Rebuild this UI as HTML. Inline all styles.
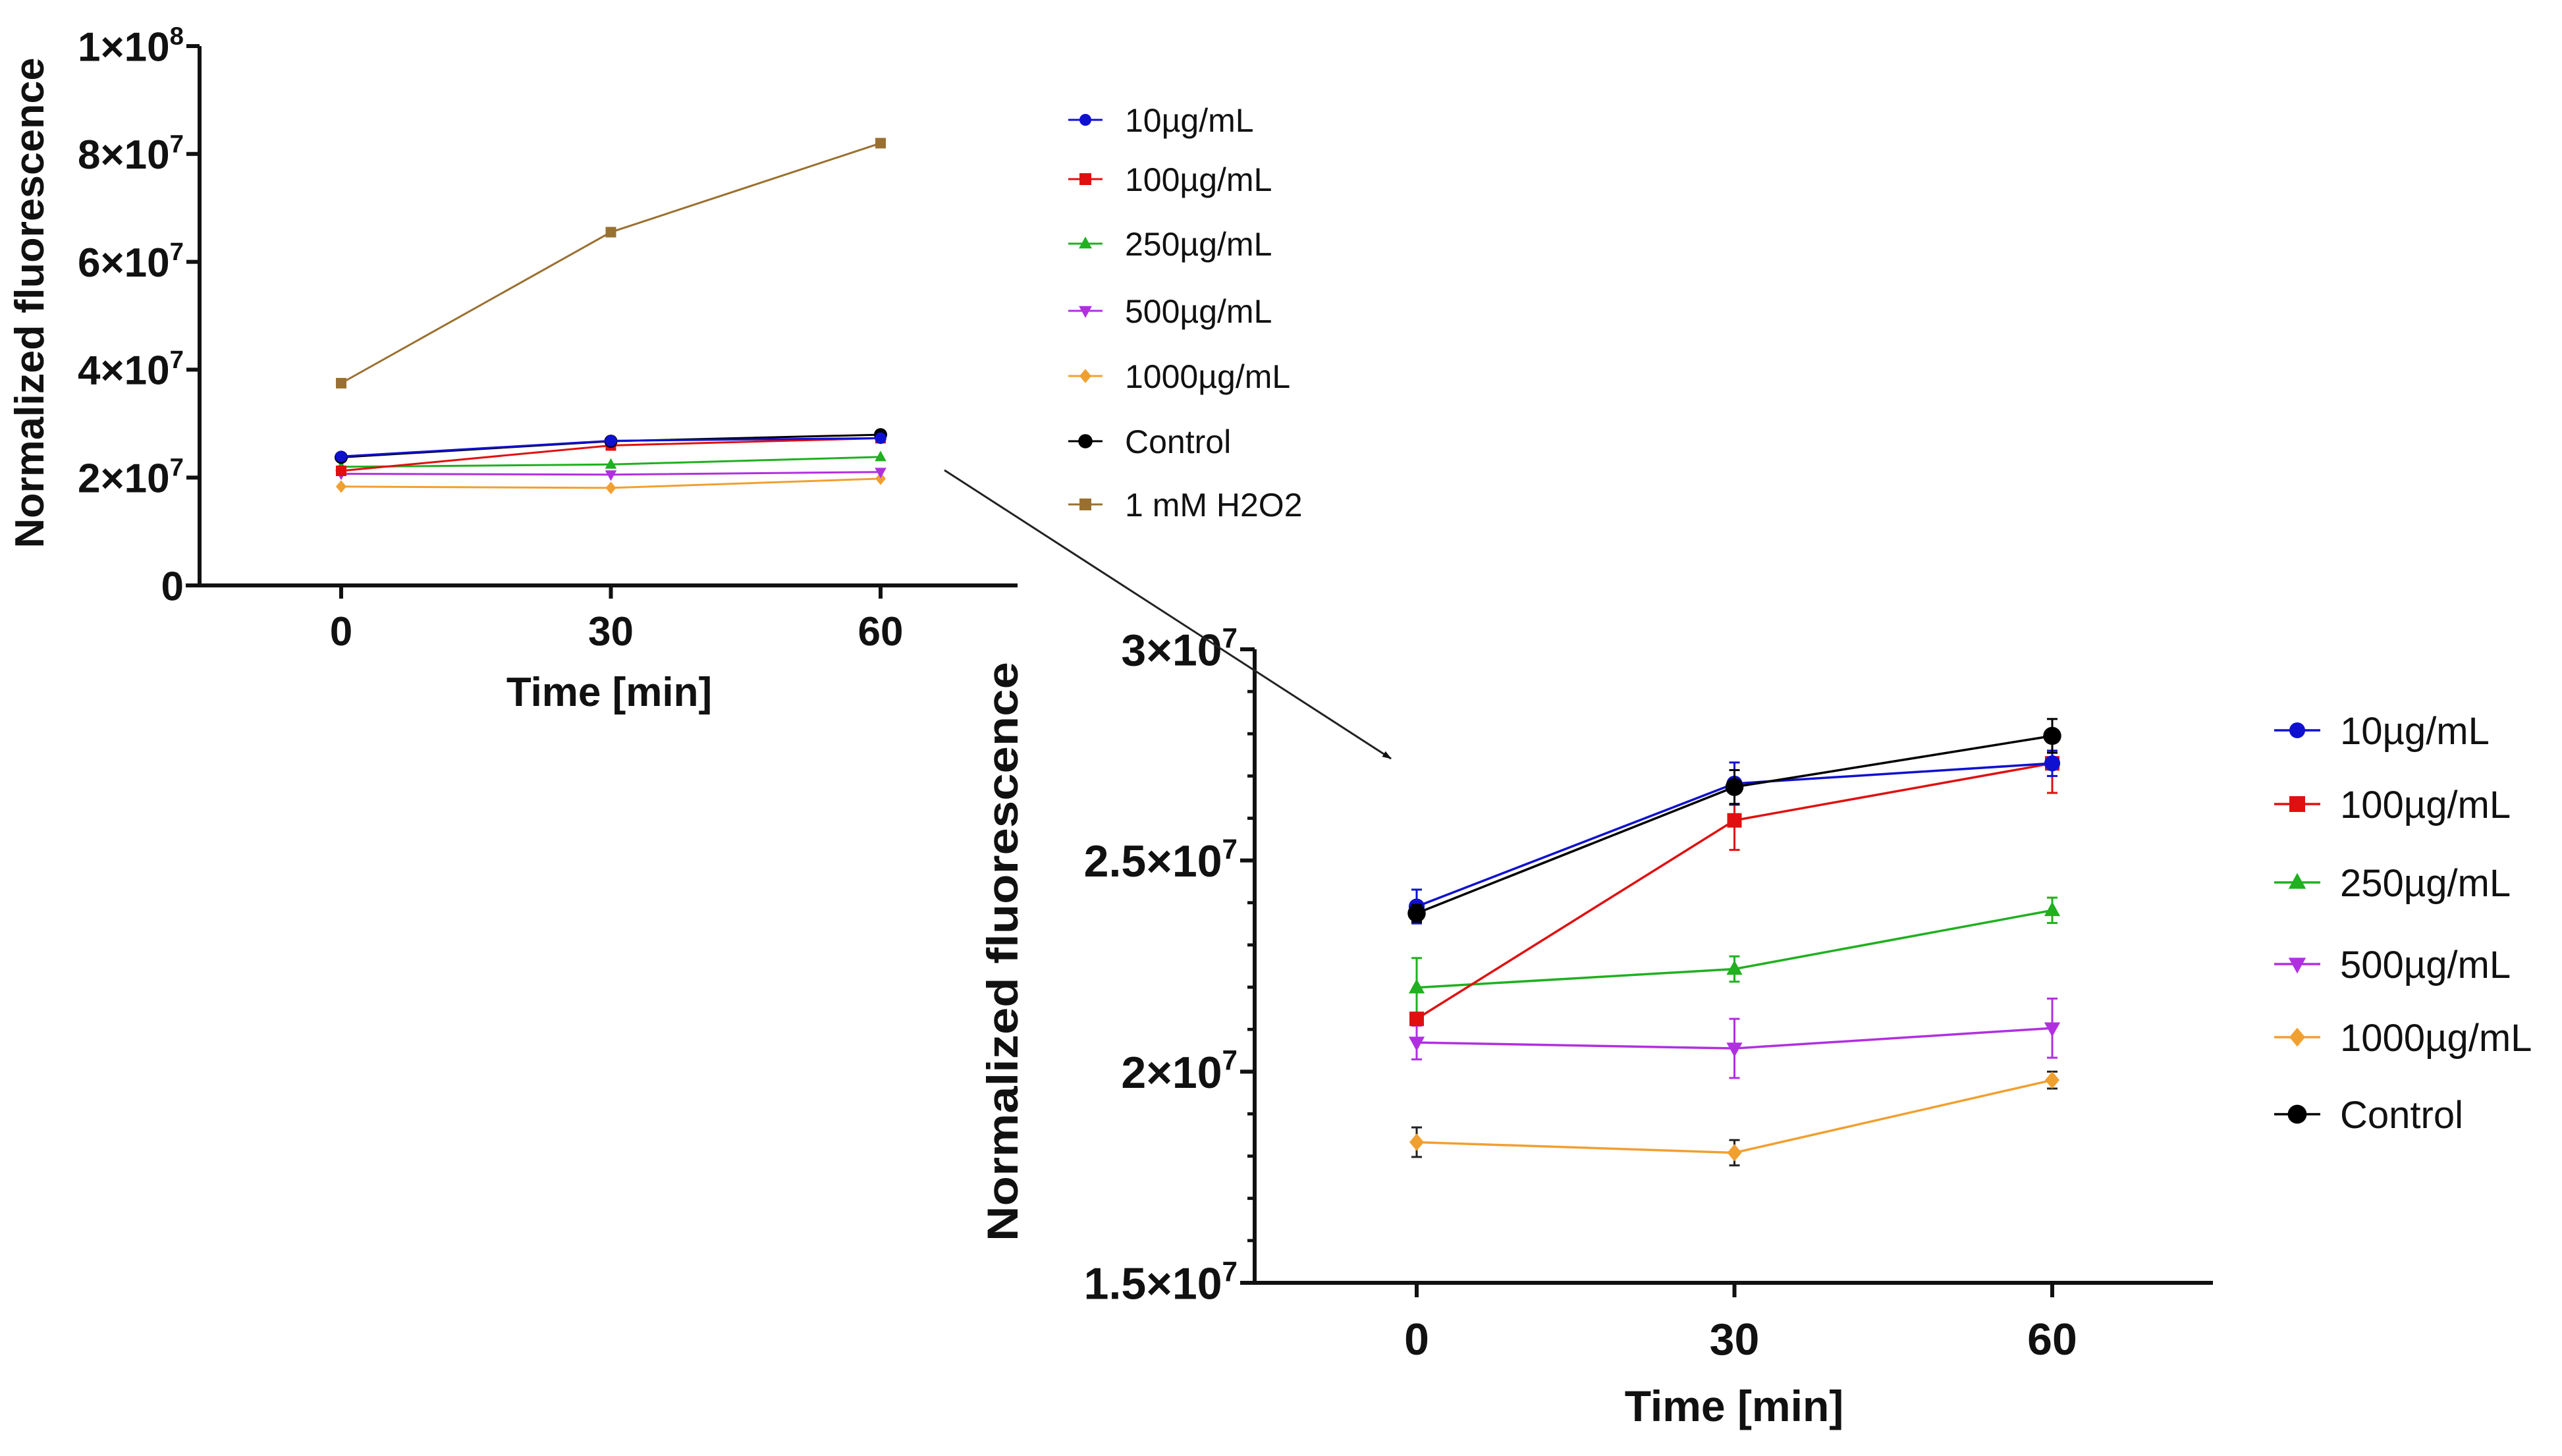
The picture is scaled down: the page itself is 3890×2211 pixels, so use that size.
<!DOCTYPE html>
<html><head><meta charset="utf-8">
<style>
html,body{margin:0;padding:0;background:#fff;}
svg{display:block;}
text{font-family:"Liberation Sans",sans-serif;}
</style></head>
<body>
<svg id="fig" width="3890" height="2211" viewBox="0 0 3890 2211" xmlns="http://www.w3.org/2000/svg">
<defs>
<marker id="ah" markerWidth="14" markerHeight="10" refX="13" refY="5" orient="auto" markerUnits="userSpaceOnUse" viewBox="0 0 14 10"><path d="M0,0 L14,5 L0,10 Z" fill="#111"/></marker>
</defs>
<g id="c1"></g>
<g id="c2"></g>
<line x1="1434" y1="714" x2="2112" y2="1152" stroke="#222" stroke-width="3" marker-end="url(#ah)"/>
</svg>
<script>
const times = [0, 30, 60];
const seriesNames = ["10µg/mL","100µg/mL","250µg/mL","500µg/mL","1000µg/mL","Control","1 mM H2O2"];
const v10 = [2.391e7, 2.682e7, 2.73e7];
const v100 = [2.125e7, 2.595e7, 2.73e7];
const v250 = [2.199e7, 2.243e7, 2.382e7];
const v500 = [2.069e7, 2.055e7, 2.103e7];
const v1000 = [1.833e7, 1.808e7, 1.98e7];
const vCtrl = [2.375e7, 2.674e7, 2.795e7];
const vH2O2 = [3.75e7, 6.55e7, 8.2e7];
const e10 = [0.04e7, 0.05e7, 0.03e7];
const e100 = [0.01e7, 0.07e7, 0.07e7];
const e250 = [0.07e7, 0.03e7, 0.03e7];
const e500 = [0.04e7, 0.07e7, 0.07e7];
const e1000 = [0.035e7, 0.03e7, 0.02e7];
const eCtrl = [0.02e7, 0.04e7, 0.04e7];
const ticks1 = [0, 2e7, 4e7, 6e7, 8e7, 1e8];
const ticks2 = [1.5e7, 2e7, 2.5e7, 3e7];

const NS = "http://www.w3.org/2000/svg";
function mk(parent, tag, attrs){
  const el = document.createElementNS(NS, tag);
  for (const k in attrs) el.setAttribute(k, attrs[k]);
  parent.appendChild(el);
  return el;
}
const styles = [
  {c:"#1010d0", m:"circle"},
  {c:"#e01010", m:"square"},
  {c:"#20b020", m:"tri"},
  {c:"#b030e0", m:"tridown"},
  {c:"#f0a030", m:"diamond"},
  {c:"#000000", m:"circle"},
  {c:"#9a7030", m:"square"}
];
const vals = [v10, v100, v250, v500, v1000, vCtrl, vH2O2];
const errs = [e10, e100, e250, e500, e1000, eCtrl, null];

function marker(g, type, x, y, s, color){
  let el;
  if (type === "circle") el = mk(g, "circle", {cx:x, cy:y, r:s});
  else if (type === "square") el = mk(g, "rect", {x:x-s, y:y-s, width:2*s, height:2*s});
  else if (type === "tri") el = mk(g, "polygon", {points:`${x},${y-s*1.2} ${x-s*1.1},${y+s*0.8} ${x+s*1.1},${y+s*0.8}`});
  else if (type === "tridown") el = mk(g, "polygon", {points:`${x},${y+s*1.2} ${x-s*1.1},${y-s*0.8} ${x+s*1.1},${y-s*0.8}`});
  else el = mk(g, "polygon", {points:`${x},${y-s*1.2} ${x+s},${y} ${x},${y+s*1.2} ${x-s},${y}`});
  el.setAttribute("fill", color);
  return el;
}
function sciLabel(g, v, x, y, fs){
  const t = mk(g, "text", {x:x, y:y, "text-anchor":"end", "font-size":fs, "font-weight":"bold", fill:"#111"});
  if (v === 0) { t.textContent = "0"; return t; }
  const e = Math.floor(Math.log10(v) + 1e-9);
  const m = +(v / Math.pow(10, e)).toFixed(2);
  const a = document.createElementNS(NS, "tspan"); a.textContent = m + "×10"; t.appendChild(a);
  const b = document.createElementNS(NS, "tspan"); b.textContent = e; b.setAttribute("dy", -fs*0.4); b.setAttribute("font-size", fs*0.62); t.appendChild(b);
  return t;
}

function chart(g, o){
  const xs = t => o.x0 + (t - times[0]) / (times[2] - times[0]) * (o.x60 - o.x0);
  const ys = v => o.yb - (v - o.ymin) / (o.ymax - o.ymin) * (o.yb - o.yt);
  const ya = mk(g, "line", {x1:o.ax, y1:o.yt, x2:o.ax, y2:o.yb, stroke:"#111", "stroke-width":o.aw});
  
  
  const xa = mk(g, "line", {x1:o.xl, y1:o.yb, x2:o.xr, y2:o.yb, stroke:"#111", "stroke-width":o.aw});
  
  
  o.yticks.forEach(v => {
    const y = ys(v);
    mk(g, "line", {x1:o.ax - o.tl, y1:y, x2:o.ax, y2:y, stroke:"#111", "stroke-width":o.aw});
    const t = sciLabel(g, v, o.ax - o.tl - 4, y + o.fs*0.36, o.fs);
    
    
  });
  if (o.minor) {
    for (let v = o.ymin; v <= o.ymax + 1; v += o.minor) {
      mk(g, "line", {x1:o.ax - o.tl*0.5, y1:ys(v), x2:o.ax, y2:ys(v), stroke:"#111", "stroke-width":o.aw*0.8});
    }
  }
  times.forEach(tv => {
    const x = xs(tv);
    mk(g, "line", {x1:x, y1:o.yb, x2:x, y2:o.yb + o.tl, stroke:"#111", "stroke-width":o.aw});
    const t = mk(g, "text", {x:x, y:o.xlabY, "text-anchor":"middle", "font-size":o.fs, "font-weight":"bold", fill:"#111"});
    t.textContent = tv;
    
    
  });
  const xt = mk(g, "text", {x:o.xtX, y:o.xtY, "text-anchor":"middle", "font-size":o.tfs, "font-weight":"bold", fill:"#111"});
  xt.textContent = "Time [min]";
  
  
  const yt = mk(g, "text", {x:0, y:0, "text-anchor":"middle", "font-size":o.tfs, "font-weight":"bold", fill:"#111", transform:`translate(${o.ytX},${o.ytY}) rotate(-90)`, textLength:o.ytLen, lengthAdjust:"spacingAndGlyphs"});
  yt.textContent = "Normalized fluorescence";
  
  
  o.drawOrder.forEach(i => {
    const sg = mk(g, "g", {});
    
    
    const st = styles[i];
    if (o.errors && errs[i]) {
      times.forEach((tv, k) => {
        const x = xs(tv), y1 = ys(vals[i][k] - errs[i][k]), y2 = ys(vals[i][k] + errs[i][k]);
        const ec = i === 4 ? "#222" : st.c;
        mk(sg, "line", {x1:x, y1:y1, x2:x, y2:y2, stroke:ec, "stroke-width":3});
        mk(sg, "line", {x1:x-8, y1:y1, x2:x+8, y2:y1, stroke:ec, "stroke-width":3});
        mk(sg, "line", {x1:x-8, y1:y2, x2:x+8, y2:y2, stroke:ec, "stroke-width":3});
      });
    }
    const pts = times.map((tv, k) => xs(tv) + "," + ys(vals[i][k])).join(" ");
    const pl = mk(sg, "polyline", {points:pts, fill:"none", stroke:st.c, "stroke-width":o.lw});
    
    
    times.forEach((tv, k) => {
      const s = (i === 5 ? o.ms*1.25 : (i === 0 ? o.ms*1.1 : o.ms));
      const m = marker(sg, st.m, xs(tv), ys(vals[i][k]), s, st.c);
      
      
    });
  });
  o.legOrder.forEach((i, k) => {
    const lg = mk(g, "g", {});
    
    
    const y = o.legY[k];
    mk(lg, "line", {x1:o.legX1, y1:y, x2:o.legX2, y2:y, stroke:styles[i].c, "stroke-width":o.lw});
    marker(lg, styles[i].m, (o.legX1 + o.legX2)/2, y, i === 5 ? o.legMs*1.2 : o.legMs, styles[i].c);
    const t = mk(lg, "text", {x:o.legTX, y:y + o.lfs*0.36, "font-size":o.lfs, fill:"#111"});
    t.textContent = seriesNames[i];
  });
}

chart(document.getElementById("c1"), {
  ax:303, yt:70, yb:889, xl:282, xr:1545, x0:518, x60:1337, ymin:0, ymax:1e8,
  yticks:ticks1, minor:0, tl:20, aw:6, fs:62, tfs:62, xlabY:980,
  xtX:925, xtY:1072, ytX:66, ytY:460, ytLen:745,
  drawOrder:[6,4,3,2,1,5,0], legOrder:[0,1,2,3,4,5,6], errors:false, lw:3, ms:8,
  legY:[182,272,370,472,571,670,766], legX1:1622, legX2:1674, legTX:1708, lfs:50, legMs:9
});
chart(document.getElementById("c2"), {
  ax:1905, yt:986, yb:1948, xl:1888, xr:3360, x0:2151, x60:3116, ymin:1.5e7, ymax:3e7,
  yticks:ticks2, minor:0.1e7, tl:22, aw:6, fs:68, tfs:66, xlabY:2057,
  xtX:2633, xtY:2158, ytX:1545, ytY:1445, ytLen:880,
  drawOrder:[4,3,2,1,0,5], legOrder:[0,1,2,3,4,5], errors:true, lw:3.5, ms:11,
  legY:[1109,1221,1340,1464,1575,1692], legX1:3453, legX2:3523, legTX:3553, lfs:58, legMs:12
});
</script>
</body></html>
